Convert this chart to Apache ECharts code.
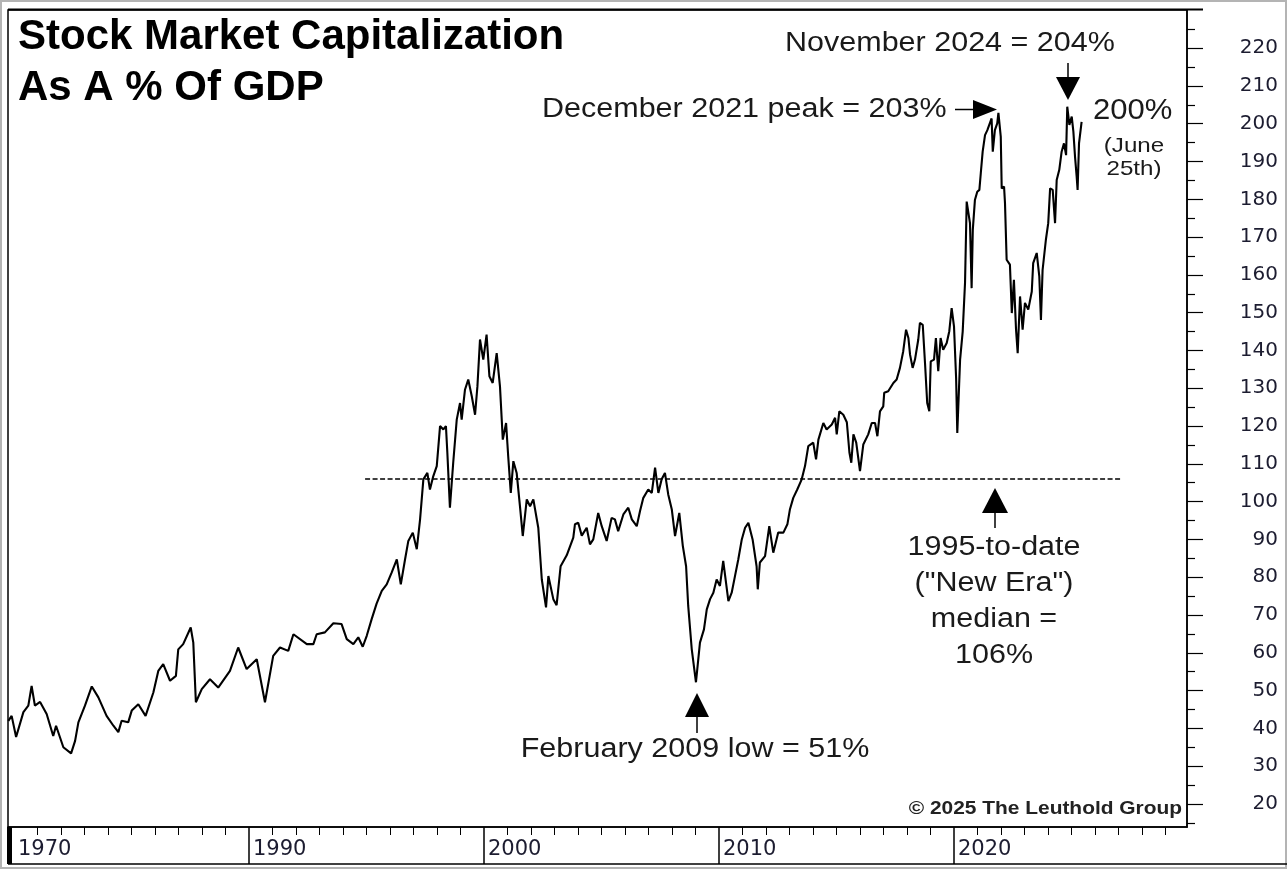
<!DOCTYPE html>
<html>
<head>
    <meta charset="utf-8">
    <title>Stock Market Capitalization As A % Of GDP</title>
    <script src="https://cdn.jsdelivr.net/npm/echarts@6/dist/echarts.min.js"></script>
    <style>
        html, body { margin: 0; padding: 0; background: #fff; }
        #chart1 { width: 1287px; height: 869px; }
    </style>
</head>
<body>
<div id="chart1"></div>

<script type="text/javascript">
    // 数据 (读自原图, 年份为小数)
    var years = [
        1979.76, 1979.90, 1980.09, 1980.40, 1980.61, 1980.75, 1980.89, 1981.11, 1981.39, 1981.67,
        1981.79, 1982.10, 1982.43, 1982.60, 1982.74, 1983.02, 1983.31, 1983.59, 1983.94, 1984.23,
        1984.44, 1984.58, 1984.86, 1985.01, 1985.29, 1985.60, 1985.93, 1986.14, 1986.35, 1986.64,
        1986.89, 1986.99, 1987.20, 1987.52, 1987.63, 1987.74, 1987.99, 1988.34, 1988.69, 1989.19,
        1989.54, 1989.90, 1990.33, 1990.68, 1991.03, 1991.32, 1991.67, 1991.89, 1992.46, 1992.74,
        1992.88, 1993.23, 1993.59, 1993.94, 1994.16, 1994.44, 1994.65, 1994.84, 1995.01, 1995.22,
        1995.43, 1995.65, 1995.86, 1996.07, 1996.29, 1996.46, 1996.64, 1996.78, 1996.97, 1997.14,
        1997.28, 1997.42, 1997.59, 1997.70, 1997.84, 1997.99, 1998.13, 1998.27, 1998.38, 1998.44,
        1998.55, 1998.69, 1998.84, 1998.98, 1999.05, 1999.19, 1999.33, 1999.48, 1999.62, 1999.72,
        1999.83, 1999.97, 2000.11, 2000.23, 2000.37, 2000.54, 2000.68, 2000.80, 2000.94, 2001.03,
        2001.14, 2001.25, 2001.39, 2001.53, 2001.65, 2001.82, 2001.96, 2002.10, 2002.31, 2002.46,
        2002.64, 2002.74, 2002.95, 2003.09, 2003.26, 2003.52, 2003.80, 2003.87, 2004.01, 2004.16,
        2004.37, 2004.51, 2004.65, 2004.86, 2005.01, 2005.22, 2005.43, 2005.57, 2005.71, 2005.93,
        2006.14, 2006.29, 2006.50, 2006.64, 2006.78, 2006.99, 2007.14, 2007.28, 2007.42, 2007.56,
        2007.70, 2007.84, 2007.99, 2008.13, 2008.31, 2008.46, 2008.60, 2008.69, 2008.84, 2009.02,
        2009.19, 2009.36, 2009.48, 2009.62, 2009.76, 2009.90, 2010.04, 2010.18, 2010.40, 2010.54,
        2010.68, 2010.82, 2010.97, 2011.11, 2011.25, 2011.43, 2011.60, 2011.65, 2011.74, 2011.96,
        2012.14, 2012.31, 2012.52, 2012.74, 2012.91, 2013.02, 2013.16, 2013.33, 2013.52, 2013.66,
        2013.80, 2014.01, 2014.13, 2014.23, 2014.44, 2014.58, 2014.80, 2014.94, 2015.01, 2015.12,
        2015.29, 2015.44, 2015.55, 2015.63, 2015.72, 2015.84, 2016.00, 2016.14, 2016.35, 2016.50,
        2016.64, 2016.74, 2016.85, 2016.99, 2017.03, 2017.20, 2017.42, 2017.56, 2017.70, 2017.84,
        2017.96, 2018.06, 2018.13, 2018.24, 2018.34, 2018.48, 2018.55, 2018.67, 2018.77, 2018.86,
        2018.95, 2019.01, 2019.15, 2019.23, 2019.33, 2019.43, 2019.54, 2019.69, 2019.80, 2019.90,
        2020.00, 2020.09, 2020.14, 2020.26, 2020.37, 2020.47, 2020.54, 2020.61, 2020.68, 2020.75,
        2020.80, 2020.89, 2020.99, 2021.08, 2021.14, 2021.22, 2021.32, 2021.42, 2021.50, 2021.60,
        2021.65, 2021.74, 2021.84, 2021.89, 2021.99, 2022.03, 2022.13, 2022.17, 2022.24, 2022.38,
        2022.46, 2022.55, 2022.64, 2022.71, 2022.81, 2022.92, 2023.02, 2023.16, 2023.31, 2023.37,
        2023.52, 2023.63, 2023.70, 2023.77, 2023.91, 2024.01, 2024.09, 2024.20, 2024.30, 2024.37,
        2024.48, 2024.58, 2024.68, 2024.77, 2024.82, 2024.91, 2025.01, 2025.08, 2025.15, 2025.22,
        2025.26, 2025.32, 2025.43
    ];
    var capPct = [
        42, 43.3, 37.7, 44.3, 46, 51.2, 46, 47, 43.8, 38,
        40.7, 35, 33.4, 36.7, 41.6, 46, 51.1, 48.2, 43.3, 40.7,
        39, 42, 41.6, 44.7, 46.4, 43.3, 49.5, 55.2, 57, 52.6,
        53.9, 60.9, 62.3, 66.7, 62.7, 46.9, 50.4, 53, 50.8, 55.2,
        61.4, 55.7, 58.3, 46.9, 59.2, 61.4, 60.5, 64.9, 62.3, 62.3,
        64.9, 65.4, 67.8, 67.6, 63.6, 62.3, 64.1, 61.6, 64.5, 68.9,
        73, 76.4, 78.1, 81.2, 84.7, 78.1, 84.7, 89.6, 91.8, 87.4,
        95.3, 105.9, 107.6, 103.2, 106.7, 109.4, 120, 119.1, 120, 113,
        98.4, 110.3, 121.7, 126.1, 121.7, 129.6, 132.3, 127.9, 123, 130.5,
        142.9, 137.6, 144.2, 133.2, 131.4, 139.3, 130.5, 116.4, 120.8, 112,
        102.3, 110.7, 107.6, 98.8, 90.9, 100.6, 98.8, 100.6, 93.1, 79.4,
        72, 80.3, 74.2, 72.6, 82.9, 85.8, 90.5, 94, 94.4, 91,
        93.1, 88.7, 90, 97, 93.5, 89.6, 95.7, 95.3, 92.2, 96.6,
        98.4, 95.3, 93.5, 97.5, 101, 103.2, 102.3, 109, 102.3, 105.9,
        107.6, 101.9, 98, 90.9, 97, 88.3, 82.9, 72.4, 61, 52.2,
        62.7, 66.2, 71.5, 74.2, 75.9, 79.4, 77.7, 84.3, 73.7, 75.9,
        80.3, 84.7, 90, 93.1, 94.4, 90, 82.9, 76.8, 83.9, 85.6,
        93.5, 86.5, 91.8, 91.8, 94, 98, 101, 103.2, 105.9, 109.4,
        114.7, 115.6, 111.2, 116.4, 120.8, 119.1, 120.4, 122.2, 117.8, 123.9,
        123, 121, 113, 110.3, 117.8, 115.6, 108.1, 115.1, 117.8, 120.8,
        120.8, 117.3, 123.9, 125.2, 128.8, 129.2, 131.4, 132.3, 135.4, 139.8,
        145.5, 143.3, 138.9, 135.4, 137.6, 142.9, 147.3, 146.8, 136.3, 126.1,
        123.9, 137.1, 137.6, 143.3, 134.5, 143.3, 140.2, 142, 145.1, 151.2,
        146.4, 132.7, 118.2, 137.6, 145, 158, 179.4, 179, 173.7, 156.5,
        171.9, 179.8, 182, 182.5, 186.9, 192.6, 197, 198.3, 199.7, 201.4,
        192.6, 198.3, 200.1, 202.9, 196.6, 182.9, 183.4, 179, 164, 162.7,
        149.9, 158.7, 145.5, 139.3, 154.3, 145.5, 152.6, 150.8, 155.6, 163.1,
        165.8, 159.6, 148.1, 161.3, 169.3, 173.7, 182.9, 182.5, 173.7, 185.1,
        187.8, 192.6, 194.8, 191.7, 204.5, 199.7, 201.9, 197.9, 191.3, 186,
        182.5, 194.8, 200.5
    ];
    // 1995-to-date 中位数
    var medianYears = [1994.94, 2027.1];
    var medianValue = 106;

    // 坐标轴刻度
    var yMajorTicks = [20, 30, 40, 50, 60, 70, 80, 90, 100, 110, 120, 130, 140, 150, 160, 170, 180, 190, 200, 210, 220];
    var yMinorTicks = [15, 25, 35, 45, 55, 65, 75, 85, 95, 105, 115, 125, 135, 145, 155, 165, 175, 185, 195, 205, 215, 225];
    var xYearTicks = [
        1981, 1982, 1983, 1984, 1985, 1986, 1987, 1988, 1989,
        1991, 1992, 1993, 1994, 1995, 1996, 1997, 1998, 1999,
        2001, 2002, 2003, 2004, 2005, 2006, 2007, 2008, 2009,
        2011, 2012, 2013, 2014, 2015, 2016, 2017, 2018, 2019,
        2021, 2022, 2023, 2024, 2025, 2026, 2027, 2028, 2029
    ];
    var xDecadeTicks = [1990, 2000, 2010, 2020];
    var xLabelYears = [1980, 1990, 2000, 2010, 2020];
    var xLabelTexts = ['1970', '1990', '2000', '2010', '2020'];

    var lineData = years.map(function (y, i) { return [y, capPct[i]]; });
    var medianData = medianYears.map(function (y) { return [y, medianValue]; });

    var FONT = '"Liberation Sans", Arial, sans-serif';
    var AXIS_FONT = '"DejaVu Sans", sans-serif';

    function txt(x, y, text, size, align, opts) {
        opts = opts || {};
        return {
            type: 'text',
            x: x,
            y: y,
            scaleX: opts.scaleX || 1.13,
            z: 100,
            style: {
                text: text,
                fontSize: size,
                fontFamily: FONT,
                fontWeight: opts.bold ? 'bold' : 'normal',
                fill: opts.color || '#1a1a1a',
                align: align,
                textAlign: align,
                verticalAlign: 'middle',
                textVerticalAlign: 'middle'
            }
        };
    }

    function arrowHead(points) {
        return { type: 'polygon', z: 100, shape: { points: points }, style: { fill: '#000' } };
    }

    function stem(x1, y1, x2, y2) {
        return { type: 'line', z: 100, shape: { x1: x1, y1: y1, x2: x2, y2: y2 }, style: { stroke: '#000', lineWidth: 1.5 } };
    }

    var myChart = echarts.init(document.getElementById('chart1'), null, { renderer: 'canvas' });
    myChart.setOption({
        animation: false,
        backgroundColor: '#fff',
        grid: {
            left: 8,
            right: 100,
            top: 10,
            bottom: 42,
            show: true,
            borderColor: '#000',
            borderWidth: 1.5,
            backgroundColor: 'transparent'
        },
        xAxis: [{
            type: 'value',
            position: 'bottom',
            min: 1979.745,
            max: 2029.915,
            axisLine: { show: true, onZero: false, lineStyle: { color: '#000', width: 1.5 } },
            axisTick: { show: true, customValues: xYearTicks, length: 8, lineStyle: { color: '#000', width: 1 } },
            axisLabel: { show: false },
            splitLine: { show: false }
        }, {
            type: 'value',
            position: 'bottom',
            min: 1979.745,
            max: 2029.915,
            axisLine: { show: false, onZero: false },
            axisTick: { show: true, customValues: xDecadeTicks, length: 37, lineStyle: { color: '#000', width: 1.5 } },
            axisLabel: {
                show: true,
                customValues: xLabelYears,
                formatter: function (v) {
                    var i = xLabelYears.indexOf(Math.round(v));
                    return i >= 0 ? xLabelTexts[i] : '';
                },
                align: 'left',
                margin: 12,
                padding: [0, 0, 0, 4],
                fontFamily: AXIS_FONT,
                fontSize: 21,
                color: '#1c1c30'
            },
            splitLine: { show: false }
        }],
        yAxis: [{
            type: 'value',
            position: 'right',
            min: 13.9,
            max: 230.1,
            axisLine: { show: true, onZero: false, lineStyle: { color: '#000', width: 1.5 } },
            axisTick: { show: true, customValues: yMajorTicks, length: 16, lineStyle: { color: '#000', width: 1.2 } },
            axisLabel: {
                show: true,
                customValues: yMajorTicks,
                align: 'right',
                margin: 91,
                fontFamily: AXIS_FONT,
                fontSize: 20,
                color: '#1c1c30'
            },
            splitLine: { show: false }
        }, {
            type: 'value',
            position: 'right',
            min: 13.9,
            max: 230.1,
            axisLine: { show: false, onZero: false },
            axisTick: { show: true, customValues: yMinorTicks, length: 8, lineStyle: { color: '#000', width: 1.2 } },
            axisLabel: { show: false },
            splitLine: { show: false }
        }],
        series: [{
            name: 'Stock Market Capitalization As A % Of GDP',
            type: 'line',
            xAxisIndex: 0,
            yAxisIndex: 0,
            data: lineData,
            symbol: 'none',
            lineStyle: { color: '#000', width: 2.1 },
            z: 3
        }, {
            name: 'median',
            type: 'line',
            xAxisIndex: 0,
            yAxisIndex: 0,
            data: medianData,
            symbol: 'none',
            lineStyle: { color: '#000', width: 1.4, type: [5, 2.5] },
            z: 2
        }],
        graphic: [
            // 外框
            { type: 'rect', z: 50, shape: { x: 1, y: 1, width: 1285, height: 867 }, style: { fill: 'none', stroke: '#b4b4b4', lineWidth: 2 } },
            { type: 'line', z: 50, shape: { x1: 8, y1: 9.5, x2: 1203, y2: 9.5 }, style: { stroke: '#000', lineWidth: 2 } },
            { type: 'line', z: 50, shape: { x1: 8, y1: 864, x2: 1287, y2: 864 }, style: { stroke: '#000', lineWidth: 1.5 } },
            { type: 'rect', z: 50, shape: { x: 7, y: 827, width: 5, height: 37 }, style: { fill: '#000' } },
            // 标题
            txt(18, 37, 'Stock Market Capitalization', 42, 'left', { bold: true, scaleX: 1, color: '#000' }),
            txt(18, 88, 'As A % Of GDP', 42, 'left', { bold: true, scaleX: 1, color: '#000' }),
            // 注释
            txt(785, 44, 'November 2024 = 204%', 27, 'left'),
            stem(1068, 63, 1068, 80),
            arrowHead([[1056, 77], [1080, 77], [1068, 100]]),
            txt(542, 110, 'December 2021 peak = 203%', 27, 'left'),
            stem(955, 109.5, 976, 109.5),
            arrowHead([[973, 100], [973, 119], [997, 109.5]]),
            txt(1093, 111, '200%', 29, 'left', { scaleX: 1.07 }),
            txt(1134, 146, '(June', 21, 'center', { scaleX: 1.15 }),
            txt(1134, 169, '25th)', 21, 'center', { scaleX: 1.15 }),
            arrowHead([[982, 513], [1008, 513], [995, 488]]),
            stem(995, 511, 995, 528),
            txt(994, 548, '1995-to-date', 27, 'center'),
            txt(994, 584, '("New Era")', 27, 'center'),
            txt(994, 620, 'median =', 27, 'center'),
            txt(994, 656, '106%', 27, 'center'),
            arrowHead([[685, 717], [709, 717], [697, 693]]),
            stem(697, 715, 697, 733),
            txt(695, 750, 'February 2009 low = 51%', 27, 'center'),
            txt(1182, 809, '\u00a9 2025 The Leuthold Group', 18.5, 'right', { bold: true, color: '#222' })
        ]
    });
</script>
</body>
</html>
